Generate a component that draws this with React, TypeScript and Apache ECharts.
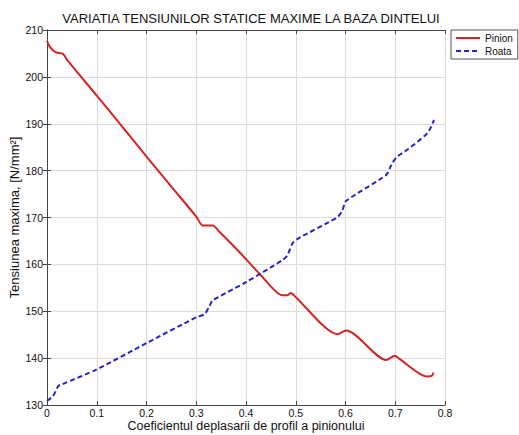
import React, { useEffect, useRef } from "react";
import * as echarts from "echarts";

const titleText = "VARIATIA TENSIUNILOR STATICE MAXIME LA BAZA DINTELUI";
const xAxisName = "Coeficientul deplasarii de profil a pinionului";
const yAxisName = "Tensiunea maxima, [N/mm²]";
const seriesNames = ["Pinion", "Roata"];

const pinionX = [0, 0.005, 0.012, 0.019, 0.032, 0.042, 0.1, 0.145, 0.2, 0.25, 0.3, 0.313, 0.333, 0.347, 0.387, 0.429, 0.473, 0.483, 0.49, 0.5, 0.584, 0.594, 0.602, 0.682, 0.699, 0.709, 0.763, 0.773, 0.777];
const pinionY = [207.7, 206.5, 205.7, 205.2, 204.9, 203.4, 196.0, 190.2, 183.0, 176.6, 170.2, 168.3, 168.3, 166.9, 162.6, 157.8, 153.4, 153.4, 153.9, 153.0, 145.1, 145.6, 145.9, 139.6, 140.5, 139.8, 136.1, 136.2, 136.9];

const roataX = [0, 0.012, 0.023, 0.03, 0.1, 0.2, 0.3, 0.317, 0.327, 0.333, 0.4, 0.473, 0.483, 0.493, 0.503, 0.584, 0.594, 0.601, 0.682, 0.692, 0.702, 0.726, 0.76, 0.768, 0.778];
const roataY = [130.9, 131.9, 134.1, 134.4, 137.6, 143.2, 148.7, 149.4, 151.2, 152.3, 156.2, 160.9, 161.9, 164.4, 165.4, 170.1, 171.6, 173.5, 179.1, 181.2, 182.8, 184.6, 187.5, 188.5, 190.8];

const xTicks = { min: 0, max: 0.8, interval: 0.1 };
const yTicks = { min: 130, max: 210, interval: 10 };

const FONT = "'Liberation Sans', Arial, Helvetica, sans-serif";

export default function App() {
  const ref = useRef<HTMLDivElement>(null);
  useEffect(() => {
    if (!ref.current) return;
    const chart = echarts.init(ref.current, undefined, { renderer: "svg" });
    const zip = (xs: number[], ys: number[]) => xs.map((x, i) => [x, ys[i]]);
    const axisLine = { show: true, lineStyle: { color: "#444", width: 1 } };
    const tick = { show: true, inside: true, length: 4, lineStyle: { color: "#444" } };
    chart.setOption({
      animation: false,
      backgroundColor: "#fff",
      textStyle: { fontFamily: FONT },
      title: {
        text: titleText,
        left: 246,
        textAlign: "center",
        top: 7,
        textStyle: { fontFamily: FONT, fontSize: 13, fontWeight: "normal", color: "#111" },
      },
      grid: { left: 47, right: 74, top: 30, bottom: 30, outerBoundsMode: "none", containLabel: false },
      legend: {
        orient: "vertical",
        left: 451,
        top: 30,
        padding: [3, 5, 3, 4],
        itemGap: 3,
        itemWidth: 24,
        itemHeight: 10,
        borderColor: "#555",
        borderWidth: 1,
        itemStyle: { opacity: 0 },
        data: seriesNames,
        textStyle: { fontFamily: FONT, fontSize: 10, color: "#111" },
      },
      xAxis: [
        {
          type: "value",
          ...xTicks,
          name: xAxisName,
          nameLocation: "middle",
          nameGap: 14,
          nameMoveOverlap: false,
          nameTextStyle: { fontFamily: FONT, fontSize: 12.5, color: "#111", lineHeight: 13 },
          axisLine,
          axisTick: tick,
          axisLabel: {
            margin: 2,
            fontSize: 10.5,
            lineHeight: 11,
            color: "#111",
            formatter: (v: number) => (v === 0 ? "0" : v.toFixed(1)),
          },
          splitLine: { show: true, lineStyle: { color: "#dcdcdc", width: 1 } },
        },
        {
          type: "value",
          ...xTicks,
          position: "top",
          axisLine,
          axisTick: tick,
          axisLabel: { show: false },
          splitLine: { show: false },
        },
      ],
      yAxis: [
        {
          type: "value",
          ...yTicks,
          name: yAxisName,
          nameLocation: "middle",
          nameGap: 26,
          nameMoveOverlap: false,
          nameTextStyle: { fontFamily: FONT, fontSize: 13, color: "#111" },
          axisLine,
          axisTick: tick,
          axisLabel: { margin: 4, fontSize: 10.5, color: "#111" },
          splitLine: { show: true, lineStyle: { color: "#dcdcdc", width: 1 } },
        },
        {
          type: "value",
          ...yTicks,
          position: "right",
          axisLine,
          axisTick: tick,
          axisLabel: { show: false },
          splitLine: { show: false },
        },
      ],
      series: [
        {
          name: seriesNames[0],
          type: "line",
          data: zip(pinionX, pinionY),
          showSymbol: false,
          symbol: "none",
          smooth: 0.25,
          lineStyle: { color: "#d42424", width: 2 },
          itemStyle: { color: "#d42424" },
        },
        {
          name: seriesNames[1],
          type: "line",
          data: zip(roataX, roataY),
          showSymbol: false,
          symbol: "none",
          smooth: 0.25,
          lineStyle: { color: "#2424c8", width: 2, type: [5, 3] },
          itemStyle: { color: "#2424c8" },
        },
      ],
    });
    return () => chart.dispose();
  }, []);
  return (
    <div
      ref={ref}
      style={{ position: "fixed", left: 0, top: 0, width: 519, height: 435 }}
    />
  );
}
